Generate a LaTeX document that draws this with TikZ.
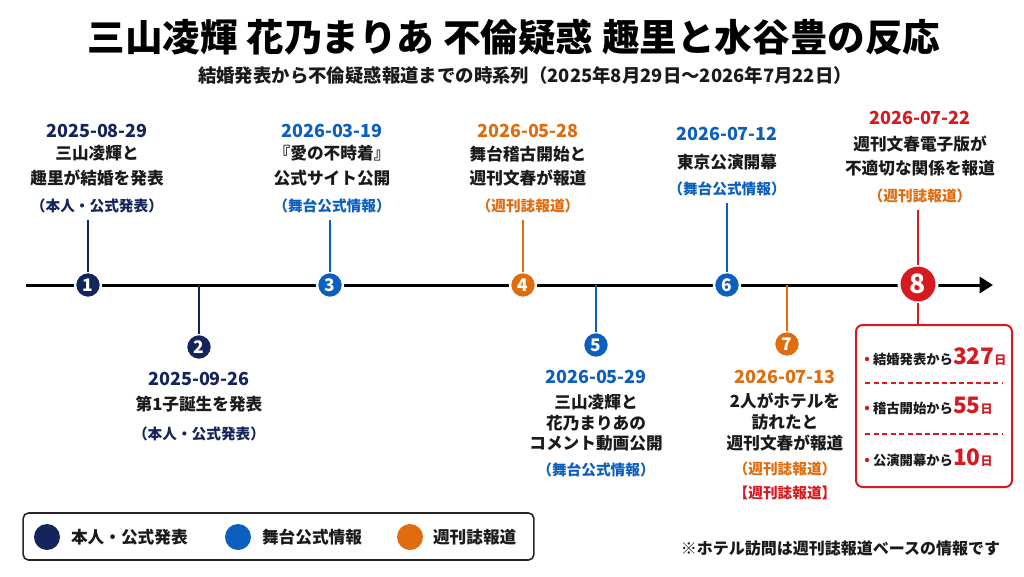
\documentclass[tikz,border=0pt]{standalone}
\usepackage{fontspec}
\setmainfont{Noto Sans CJK JP}
\usetikzlibrary{arrows.meta}
\definecolor{navy}{HTML}{14245C}
\definecolor{sblue}{HTML}{0B5FBF}
\definecolor{orng}{HTML}{E06C10}
\definecolor{rred}{HTML}{D71920}
\definecolor{ink}{HTML}{1A1A1A}
\begin{document}
\begin{tikzpicture}[x=0.75pt,y=-0.75pt,
  every node/.style={inner sep=0pt,outer sep=0pt},
  titletxt/.style={font=\bfseries\fontsize{28.2}{34}\selectfont,text=black},
  subtxt/.style={font=\bfseries\fontsize{13.8}{16}\selectfont,text=ink},
  datetxt/.style={font=\bfseries\fontsize{13.5}{16}\selectfont},
  bodytxt/.style={font=\bfseries\fontsize{12.5}{18.5}\selectfont,text=ink,align=center},
  bodythree/.style={font=\bfseries\fontsize{12.5}{15.5}\selectfont,text=ink,align=center},
  srctxt/.style={font=\bfseries\fontsize{11}{13}\selectfont},
  numc/.style={circle,minimum size=19.5pt,draw=white,line width=1.8pt,text=white,font=\bfseries\fontsize{13}{14}\selectfont},
  bignum/.style={circle,minimum size=28.5pt,draw=white,line width=2.2pt,fill=rred,text=white,font=\bfseries\fontsize{20}{22}\selectfont},
  stem/.style={line width=1.5pt,shorten >=5pt},
  stemdown/.style={line width=1.5pt},
  timeline/.style={line width=2.25pt,-{Triangle[length=10pt,width=12pt]}},
  legdot/.style={circle,minimum size=19.5pt},
  legtxt/.style={font=\bfseries\fontsize{12.5}{14}\selectfont,text=ink,anchor=west},
  rowtxt/.style={font=\bfseries\fontsize{10}{12}\selectfont,text=ink,anchor=base west},
  sep/.style={rred,line width=0.9pt,dash pattern=on 4pt off 2.4pt}
]
\useasboundingbox (0,0) rectangle (1024,576);

% title
\node[titletxt] (title) at (514,37) {三山凌輝 花乃まりあ 不倫疑惑 趣里と水谷豊の反応};
\node[subtxt] (sub) at (525,76) {結婚発表から不倫疑惑報道までの時系列（2025年8月29日～2026年7月22日）};

% timeline
\coordinate (ts) at (26,285);
\coordinate (te) at (993,285);
\draw[timeline] (ts) -- (te);

% circles
\node[numc,fill=navy] (c1) at (88,285) {1};
\node[numc,fill=navy] (c2) at (199,347) {2};
\node[numc,fill=sblue] (c3) at (330,285) {3};
\node[numc,fill=orng] (c4) at (523,285) {4};
\node[numc,fill=sblue] (c5) at (596,345) {5};
\node[numc,fill=sblue] (c6) at (727,285) {6};
\node[numc,fill=orng] (c7) at (787,344) {7};

% event 1
\node[datetxt,text=navy] (d1) at (97,131) {2025-08-29};
\node[bodytxt] (b1) at (97,166) {三山凌輝と\\趣里が結婚を発表};
\node[srctxt,text=navy] (s1) at (97,206) {（本人・公式発表）};
% event 3
\node[datetxt,text=sblue] (d3) at (332,131) {2026-03-19};
\node[bodytxt] (b3) at (332,166) {『愛の不時着』\\公式サイト公開};
\node[srctxt,text=sblue] (s3) at (332,206) {（舞台公式情報）};
% event 4
\node[datetxt,text=orng] (d4) at (528,131) {2026-05-28};
\node[bodytxt] (b4) at (528,166) {舞台稽古開始と\\週刊文春が報道};
\node[srctxt,text=orng] (s4) at (528,206) {（週刊誌報道）};
% event 6
\node[datetxt,text=sblue] (d6) at (727,134) {2026-07-12};
\node[bodytxt] (b6) at (727,162) {東京公演開幕};
\node[srctxt,text=sblue] (s6) at (727,189) {（舞台公式情報）};
% event 8
\node[datetxt,text=rred] (d8) at (920,118) {2026-07-22};
\node[bodytxt] (b8) at (920,156) {週刊文春電子版が\\不適切な関係を報道};
\node[srctxt,text=orng] (s8) at (920,196) {（週刊誌報道）};
% event 2
\node[datetxt,text=navy] (d2) at (199,379) {2025-09-26};
\node[bodytxt] (b2) at (199,404) {第1子誕生を発表};
\node[srctxt,text=navy] (s2) at (199,434) {（本人・公式発表）};
% event 5
\node[datetxt,text=sblue] (d5) at (596,377) {2026-05-29};
\node[bodythree] (b5) at (596,423) {三山凌輝と\\花乃まりあの\\コメント動画公開};
\node[srctxt,text=sblue] (s5) at (596,470) {（舞台公式情報）};
% event 7
\node[datetxt,text=orng] (d7) at (785,377) {2026-07-13};
\node[bodythree] (b7) at (785,422) {2人がホテルを\\訪れたと\\週刊文春が報道};
\node[srctxt,text=orng] (s7) at (785,469) {（週刊誌報道）};
\node[srctxt,text=rred] (r7) at (785,493) {【週刊誌報道】};

% red summary box
\node[draw=rred,line width=1.5pt,rounded corners=5pt,fill=white,minimum width=117pt,minimum height=121.5pt] (box8) at (934,406) {};
\node[bignum] (c8) at (918,284) {8};

% stems up
\draw[stem,navy] (c1) -- (c1 |- s1.south);
\draw[stem,sblue] (c3) -- (c3 |- s3.south);
\draw[stem,orng] (c4) -- (c4 |- s4.south);
\draw[stem,sblue] (c6) -- (c6 |- s6.south);
\draw[stem,rred,line width=2.2pt] (c8) -- (c8 |- s8.south);
\draw[rred,line width=2.2pt] (c8) -- (c8 |- box8.north);
% stems down
\draw[stemdown,navy] (c2) -- (c2 |- ts);
\draw[stemdown,sblue] (c5) -- (c5 |- ts);
\draw[stemdown,orng] (c7) -- (c7 |- ts);

% box rows
\fill[rred] (867,359) circle (2.2);
\node[rowtxt] (row1) at (873,364) {結婚発表から{\color{rred}\fontsize{17}{18}\selectfont 327}{\color{rred}\fontsize{9}{10}\selectfont 日}};
\draw[sep] (865,383) -- (1002,383);
\fill[rred] (867,408) circle (2.2);
\node[rowtxt] (row2) at (873,413) {稽古開始から{\color{rred}\fontsize{17}{18}\selectfont 55}{\color{rred}\fontsize{9}{10}\selectfont 日}};
\draw[sep] (865,434) -- (1002,434);
\fill[rred] (867,460) circle (2.2);
\node[rowtxt] (row3) at (873,465) {公演開幕から{\color{rred}\fontsize{17}{18}\selectfont 10}{\color{rred}\fontsize{9}{10}\selectfont 日}};

% legend
\node[draw=black!85,line width=1.2pt,rounded corners=4pt,minimum width=383pt,minimum height=35.25pt] (legend) at (278.5,536.5) {};
\node[legdot,fill=navy] (l1) at (47,537) {};
\node[legtxt] (lt1) at (71,537) {本人・公式発表};
\node[legdot,fill=sblue] (l2) at (238,537) {};
\node[legtxt] (lt2) at (262,537) {舞台公式情報};
\node[legdot,fill=orng] (l3) at (410,537) {};
\node[legtxt] (lt3) at (433,537) {週刊誌報道};

% footnote
\node[font=\bfseries\fontsize{12}{14}\selectfont,text=ink,anchor=east] (foot) at (1000,548) {※ホテル訪問は週刊誌報道ベースの情報です};
\end{tikzpicture}
\end{document}
